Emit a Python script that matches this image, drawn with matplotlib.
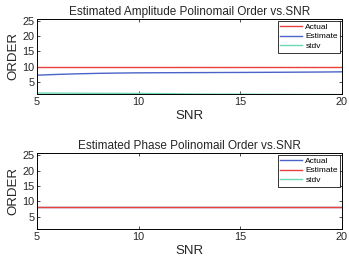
import matplotlib
matplotlib.use("Agg")
import matplotlib.pyplot as plt

plt.rcParams['font.family'] = ['Liberation Sans', 'DejaVu Sans']

snr = [5, 6, 7, 8, 9, 10, 11, 12, 13, 14, 15, 16, 17, 18, 19, 20]
amp_actual = [10]*16
amp_estimate = [7.2, 7.45, 7.65, 7.8, 7.9, 7.97, 8.0, 8.03, 8.05, 8.08, 8.1, 8.13, 8.16, 8.2, 8.24, 8.3]
amp_stdv = [1.3, 1.28, 1.25, 1.22, 1.2, 1.17, 1.13, 1.05, 0.98, 0.95, 0.92, 0.9, 0.88, 0.85, 0.82, 0.8]
ph_actual = [8]*16
ph_estimate = [8]*16
ph_stdv = [0]*16
yticks = [5, 10, 15, 20, 25]
xticks = [5, 10, 15, 20]

fig = plt.figure(figsize=(3.49, 2.61), dpi=100)
ax1 = fig.add_axes([37/349, 1-94/261, 305/349, 75/261])
ax2 = fig.add_axes([37/349, 1-229/261, 305/349, 76/261])

blue = '#4a63c8'
red = '#e8403a'
green = '#6ad9b0'

ax1.plot(snr, amp_actual, color=red, lw=1.0, label='Actual')
ax1.plot(snr, amp_estimate, color=blue, lw=1.0, label='Estimate')
ax1.plot(snr, amp_stdv, color=green, lw=1.0, label='stdv')
ax1.set_title('Estimated Amplitude Polinomail Order vs.SNR', fontsize=8.5, pad=3, color='#262626')

ax2.plot(snr, ph_actual, color=blue, lw=1.0, label='Actual')
ax2.plot(snr, ph_estimate, color=red, lw=1.0, label='Estimate')
ax2.plot(snr, ph_stdv, color=green, lw=1.0, label='stdv')
ax2.set_title('Estimated Phase Polinomail Order vs.SNR', fontsize=8.5, pad=3, color='#262626')

for ax in (ax1, ax2):
    ax.set_xlim(5, 20)
    ax.set_ylim(1, 25.7)
    ax.set_xticks(xticks)
    ax.set_yticks(yticks)
    ax.tick_params(direction='in', length=2, width=0.5, labelsize=7.8, top=True, right=True, pad=2,
                   labelcolor='#262626')
    ax.set_xlabel('SNR', fontsize=9.5, labelpad=2, color='#262626')
    ax.set_ylabel('ORDER', fontsize=9.5, labelpad=2, color='#262626')
    for s in ax.spines.values():
        s.set_linewidth(0.7)
    leg = ax.legend(loc='upper right', fontsize=6, frameon=True, fancybox=False,
                    edgecolor='black', borderpad=0.3, labelspacing=0.2,
                    handlelength=2.6, handletextpad=0.4, borderaxespad=0.2)
    leg.get_frame().set_linewidth(0.7)

fig.savefig('out.png', dpi=100)
